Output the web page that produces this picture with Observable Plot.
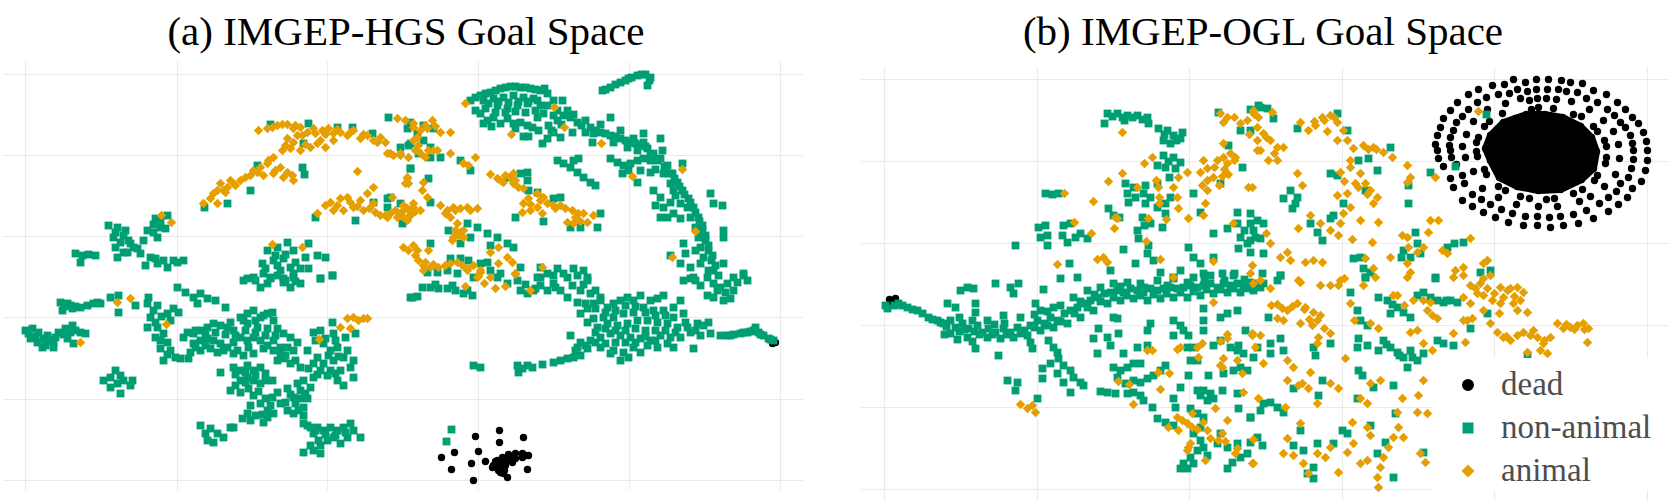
<!DOCTYPE html>
<html><head><meta charset="utf-8">
<script src="https://cdn.jsdelivr.net/npm/d3@7"></script>
<script src="https://cdn.jsdelivr.net/npm/@observablehq/plot@0.6"></script>
<style>
html,body{margin:0;padding:0;background:#fff}
body{width:1669px;height:501px;overflow:hidden;position:relative;font-family:"Liberation Serif","Times New Roman",serif}
.title{position:absolute;top:11px;width:600px;text-align:center;font-size:41px;line-height:41px;color:#000;white-space:nowrap}
.panel{position:absolute;top:0}
</style></head><body>
<script>
const categories = ["dead", "non-animal", "animal"];
const colors = ["#000000", "#009E73", "#E69F00"];
const symbols = ["circle", "square", "diamond2"];
const titles = ["(a) IMGEP-HGS Goal Space", "(b) IMGEP-OGL Goal Space"];
const hgsGridX = [0, 15.2, 30.2, 45.3, 60.4, 75.5];
const hgsGridY = [0, 8.1, 16.3, 24.4, 32.5, 40.6];
const oglGridX = [0, 15.3, 30.5, 45.8, 61.0, 76.3];
const oglGridY = [0, 8.2, 16.4, 24.6, 32.8, 41.0];

// (a) IMGEP-HGS — flat x,y lists
const hgsDead = [45.0,4.4, 47.4,5.0, 49.8,4.3, 47.4,3.8, 42.9,2.8, 45.3,2.9, 41.6,2.3, 44.6,1.7, 46.0,1.9, 42.6,1.1, 44.8,0.0, 50.2,1.1,
46.8,1.5, 47.2,2.0, 47.7,2.3, 48.3,2.6, 49.0,2.7, 49.7,2.7, 50.3,2.5, 47.3,1.0, 47.8,0.7, 48.2,0.3, 47.2,1.3, 47.7,1.7, 48.3,2.0, 49.0,2.2, 49.7,2.3, 47.8,1.2, 47.5,0.8, 46.7,1.3, 48.7,1.8, 47.0,1.9, 48.0,1.5, 48.6,2.4, 50.0,2.5, 47.9,1.0,
75.0,13.8, 74.7,13.7];
const hgsNonAnimal = [24.5,35.6, 28.3,35.7, 31.2,35.3, 32.7,35.3, 34.7,34.7, 27.8,33.7, 27.9,30.6, 27.7,31.3, 22.5,29.0, 20.2,27.7, 17.9,27.3, 36.3,36.3, 23.2,31.5,
29.0,26.3, 33.0,26.0, 34.8,27.8, 36.2,28.2, 37.5,27.7, 37.7,25.7, 36.5,28.3,
38.5,35.8, 38.3,33.5, 39.3,32.7, 38.5,31.2, 39.2,34.7,
8.3,25.5, 9.2,25.3, 10.0,25.0, 8.8,24.3, 9.5,23.8, 10.3,24.0, 10.8,23.3, 9.0,23.3, 10.2,22.8, 11.5,22.7, 12.2,25.0, 11.8,24.0, 13.0,26.2, 13.5,25.3, 14.2,26.5, 14.0,25.2, 13.2,24.3, 12.5,22.3, 13.2,21.7, 13.8,22.0, 14.2,21.3, 12.0,21.5, 15.2,21.8, 15.8,22.0, 5.0,22.7, 5.7,22.5, 6.3,22.6, 7.0,22.5, 5.5,21.8, 9.2,22.3,
9.0,24.8, 9.8,24.5, 10.5,23.7, 11.2,23.2, 12.8,25.6, 13.5,26.0, 12.8,24.8, 13.0,22.2, 14.8,22.0, 9.8,22.8,
24.2,23.0, 25.2,23.3, 26.2,23.8, 26.8,23.0, 28.3,23.7, 29.2,22.5, 30.0,22.3, 24.8,22.0, 25.8,22.2, 26.5,21.3, 25.5,21.0, 27.5,21.2, 23.7,21.7, 24.5,20.3, 25.8,20.2, 26.8,20.3, 28.3,21.2, 30.7,20.5, 29.5,20.2, 22.2,20.2,
21.8,20.0, 22.8,20.3, 23.8,20.7, 24.2,19.7, 25.2,20.5, 25.8,19.8, 26.8,20.7, 27.5,19.7, 26.5,19.3, 23.5,19.3, 29.5,20.2, 30.7,20.5,
23.0,20.0, 24.5,20.2, 26.0,20.0, 27.0,19.9, 25.0,22.5, 26.0,22.6, 27.0,21.8, 28.0,22.3, 25.2,21.5, 24.0,21.2,
3.5,17.8, 4.2,17.7, 3.7,17.0, 4.7,17.2, 5.5,17.3, 6.2,17.5, 7.2,17.8, 7.5,17.7, 8.5,18.3, 9.3,18.5, 9.3,16.8, 11.0,17.5, 3.9,17.4, 4.5,17.5, 5.0,17.4, 6.8,17.7,
0.0,15.0, 0.7,15.2, 1.3,14.8, 0.5,14.2, 1.2,13.8, 2.0,13.5, 2.2,14.5, 2.8,13.8, 3.3,14.8, 4.0,15.2, 4.7,15.5, 4.2,14.2, 4.8,13.7, 5.5,14.8, 6.0,14.7, 1.7,13.3, 2.8,13.3,
0.3,14.7, 1.0,14.4, 1.8,14.2, 2.5,14.0, 3.0,14.3, 3.8,14.6, 4.5,14.8, 5.0,15.0,
12.3,18.3, 12.2,17.7, 13.2,17.5, 12.5,16.3, 12.2,15.3, 13.2,15.3, 13.0,14.3, 13.8,14.7, 14.2,13.8, 14.5,13.0, 13.8,12.0, 15.0,12.3, 15.5,12.2, 14.2,16.7, 14.8,17.2, 15.3,16.8, 14.5,16.0, 13.5,13.2,
12.8,17.0, 13.6,16.4, 13.0,15.8, 13.5,14.0, 14.2,12.6,
15.2,19.3, 16.0,18.8, 16.8,18.3, 17.5,18.7, 18.2,18.2, 19.0,18.0, 17.2,17.7, 20.0,17.3,
16.2,14.8, 15.8,14.3, 16.8,14.7, 17.5,15.0, 18.2,15.3, 18.8,15.7, 19.5,15.5, 20.2,15.3, 20.8,15.0, 21.5,16.3, 22.2,16.7, 22.8,17.0, 23.5,16.3, 24.2,16.7, 24.7,16.8, 24.8,16.0, 22.2,15.7, 23.2,15.3, 24.2,15.2, 25.2,15.2, 25.8,14.7, 26.5,14.3, 27.2,13.8, 26.8,13.0, 28.2,13.0,
16.8,13.7, 17.5,14.0, 18.2,14.2, 18.8,14.0, 19.5,13.7, 17.5,13.0, 16.5,12.8, 18.5,13.2, 19.2,12.8, 20.2,13.3, 20.8,13.8, 21.5,14.3, 22.2,14.0, 22.8,14.3, 23.5,14.0, 23.8,13.2, 20.8,12.7, 21.8,12.5, 22.8,12.7, 16.3,12.2, 24.8,14.0, 24.8,13.0, 25.5,13.3, 26.2,13.3,
17.0,15.0, 18.0,14.7, 19.0,14.8, 20.0,14.6, 21.0,14.5, 22.0,15.0, 23.0,14.8, 24.0,14.5, 25.0,14.5, 17.0,13.3, 18.0,13.5, 19.8,13.0, 21.2,13.0, 22.3,13.3, 24.2,13.5, 23.0,16.0, 23.8,16.5, 21.8,16.0, 20.5,15.8,
28.8,14.8, 29.5,15.0, 30.7,15.8, 30.8,14.7, 32.0,14.3, 29.8,13.7, 30.5,13.0, 31.2,13.3, 32.2,13.0, 32.8,12.0, 32.5,11.3, 32.8,10.3, 31.8,12.3, 30.8,12.0, 29.8,11.7, 28.8,11.7, 29.5,11.0, 30.5,11.0, 31.5,11.0, 31.2,10.0, 31.8,9.5, 28.8,10.3, 27.8,10.0, 27.2,9.7, 28.5,9.3, 27.5,9.0, 26.5,11.7, 25.8,12.2, 25.2,12.0, 27.5,11.3, 33.0,14.7,
29.0,14.0, 30.0,14.2, 31.0,14.0, 29.2,12.3, 30.3,12.5, 31.3,12.4, 29.2,10.6, 30.2,10.5, 31.0,10.7, 28.3,11.2, 25.5,12.7, 26.0,12.5, 27.0,12.0,
20.8,11.3, 21.5,11.0, 22.2,11.5, 22.8,11.0, 23.5,11.3, 24.0,10.7, 21.5,10.0, 22.2,10.3, 22.8,10.0, 23.5,9.7, 20.5,9.0, 21.5,8.8, 22.3,9.2, 22.8,8.5, 23.5,7.7, 24.2,7.0, 24.8,6.7, 24.2,6.3, 23.8,5.8, 25.5,7.7, 25.2,8.8, 26.2,9.2, 26.8,8.3, 27.5,8.2, 28.2,8.2, 27.8,7.3, 26.2,7.0, 26.8,6.7, 27.8,6.5, 24.7,10.0, 24.7,8.3, 19.5,10.8, 22.2,6.7, 21.7,6.2, 22.5,6.0,
21.0,10.6, 22.0,10.8, 23.0,10.5, 24.0,10.0, 21.0,9.5, 22.0,9.8, 23.3,8.9, 24.0,8.2, 26.5,8.6, 27.0,7.7, 27.3,7.0, 26.0,7.8, 28.0,8.7, 23.7,6.6, 24.5,7.5, 22.5,7.5, 23.0,6.5,
7.8,10.0, 8.5,10.3, 9.0,11.0, 9.5,10.5, 8.5,9.3, 9.2,9.7, 9.8,10.0, 10.7,10.0, 10.5,9.5, 9.5,8.7,
17.5,5.5, 18.0,4.7, 18.5,5.2, 19.2,4.7, 18.8,3.8, 18.2,4.0, 19.8,4.3, 20.5,5.3, 20.8,5.3,
27.8,5.7, 28.5,5.3, 29.2,5.3, 28.8,4.7, 29.8,5.0, 30.5,5.3, 31.2,5.0, 31.8,5.3, 32.5,5.7, 32.8,5.0, 33.5,4.3, 30.8,4.3, 30.2,4.0, 29.5,3.5, 28.8,3.0, 27.8,2.8, 29.5,2.7, 31.5,3.7, 32.2,4.3,
28.2,5.5, 29.0,5.0, 30.0,4.6, 31.0,4.5, 32.0,4.8, 29.3,4.0, 28.5,3.5,
38.5,18.3, 39.2,18.4,
44.5,38.0, 45.5,38.5, 46.5,38.8, 47.5,39.2, 48.5,39.4, 49.5,39.3, 50.5,39.2, 51.5,39.0, 52.2,38.7, 45.8,38.0, 46.8,38.2, 47.8,38.3, 48.8,38.5, 49.8,38.3, 50.8,38.2, 47.2,37.5, 48.2,37.2, 49.2,37.5, 50.2,37.7, 51.2,38.0, 51.9,39.2, 52.8,38.0, 53.7,38.0, 52.2,37.5, 53.2,37.0, 54.2,37.0, 54.5,36.3, 55.2,35.8, 56.0,36.0, 53.2,36.0, 52.3,35.5, 52.8,34.8, 52.2,34.2, 51.7,33.7, 53.5,34.3, 54.7,34.8, 45.5,36.7, 46.2,36.0, 46.8,36.3, 47.5,35.7, 48.2,36.2, 48.8,35.7, 49.5,35.8, 50.2,35.5, 50.7,35.3, 49.8,34.4, 50.3,34.4, 45.8,35.7, 51.8,36.7, 51.2,36.3,
45.0,38.3, 46.0,38.7, 47.0,39.0, 48.0,39.3, 49.0,39.4, 50.0,39.3, 51.0,39.1, 46.3,37.7, 47.3,37.9, 48.3,37.8, 49.3,37.9, 50.3,37.9, 51.5,37.5, 46.0,37.2, 47.0,36.8, 48.0,36.8, 49.0,36.9, 50.0,36.8, 51.0,37.0, 52.8,36.5, 53.8,36.5, 54.8,36.6, 55.6,35.5, 53.6,35.6, 52.6,35.0, 45.0,37.0, 46.6,35.4, 49.0,35.2, 51.3,35.0,
56.5,35.3, 57.5,34.8, 58.5,34.5, 59.5,34.2, 60.5,33.8, 61.5,33.5, 62.2,33.2, 62.8,32.7, 63.5,32.2, 64.2,31.5, 64.7,30.7, 65.2,29.8, 65.7,29.0, 66.3,28.2, 66.8,27.3, 67.3,26.3, 67.7,25.5, 68.0,24.5, 68.3,23.5, 68.7,22.5, 69.0,21.5, 69.3,20.5, 56.8,34.7, 58.8,33.8, 60.2,33.3, 61.2,33.0, 62.5,32.0, 63.8,30.7, 64.5,29.7, 64.8,29.0, 66.2,27.3, 66.5,26.3, 67.0,25.3, 67.3,24.3, 67.5,23.3, 67.8,22.3, 68.3,21.0, 60.8,34.2, 61.8,33.8, 63.7,33.0, 63.5,34.2, 61.8,34.7, 58.5,36.3,
57.0,35.0, 58.0,34.7, 59.0,34.4, 60.0,34.0, 61.0,33.7, 62.0,33.4, 62.5,32.5, 63.2,32.0, 63.9,31.4, 64.4,30.7, 64.9,30.2, 65.4,29.4, 65.9,28.6, 66.5,27.8, 67.0,26.8, 67.4,25.9, 67.7,25.0, 68.0,24.0, 68.3,23.0, 68.6,22.0, 68.8,21.0, 57.5,35.6, 59.5,35.0, 56.0,34.8, 63.0,31.1, 65.0,28.5,
57.7,39.0, 58.5,39.3, 59.5,39.8, 60.3,40.2, 61.2,40.5, 62.0,40.6, 62.5,40.3, 62.2,39.5, 60.0,40.0, 58.0,39.1, 59.0,39.6, 60.6,40.3, 61.6,40.6, 62.4,40.0,
56.7,33.8, 58.5,32.2, 59.2,31.8, 59.8,31.5, 60.5,31.7, 61.2,32.0, 61.8,32.2, 59.7,30.7, 60.3,31.0, 61.5,31.0, 61.2,29.8, 62.5,30.8, 65.7,31.7,
53.2,32.0, 53.8,31.7, 54.5,31.3, 54.8,32.0, 55.3,32.2, 55.2,30.8, 55.8,30.3, 56.5,29.8, 57.0,29.5,
62.8,29.0, 63.5,28.3, 63.0,27.5, 63.8,27.3, 64.5,27.8, 64.8,26.7, 65.5,26.2, 63.5,26.3, 64.2,26.3, 65.5,27.7, 68.5,28.7, 68.8,27.7, 69.7,27.5, 69.8,25.0, 69.8,24.3,
64.5,22.5, 65.8,23.7, 66.0,22.7, 65.5,21.7, 66.5,21.3, 67.0,23.0, 67.5,21.7, 69.8,21.7, 70.8,20.3, 71.8,20.7, 72.2,20.0, 66.8,20.3,
48.2,30.3, 49.5,30.7, 50.2,30.8, 50.2,30.0, 50.3,29.0, 51.2,28.8,
49.0,26.3, 51.8,25.9, 53.5,28.3, 54.5,25.3, 55.5,25.3, 57.2,25.3, 57.5,26.7, 52.8,28.2,
38.2,35.2, 39.8,35.5, 40.8,35.2, 38.5,33.7, 39.8,34.0, 40.5,33.3, 41.5,32.3, 40.5,32.3, 43.5,32.0, 44.5,31.0, 38.5,31.2, 37.5,33.3,
40.3,30.2, 40.5,27.8, 36.2,27.3, 44.2,25.7, 45.2,25.3, 46.2,24.7, 47.2,24.3, 48.2,23.7, 48.8,23.3, 46.5,23.5, 42.3,25.0, 44.5,24.3, 40.5,23.7, 43.5,23.7,
42.5,22.2, 43.5,22.2, 44.3,22.0, 46.2,21.8, 46.5,21.0, 47.5,20.7, 49.5,21.3, 42.2,21.0, 45.5,21.7,
51.5,21.3, 52.2,20.7, 53.2,21.2, 53.8,20.7, 54.8,21.2, 55.8,21.0, 56.2,20.3, 51.2,20.3,
39.7,19.3, 40.5,19.3, 41.3,19.2, 42.2,19.2, 43.0,19.0, 43.8,18.7, 44.7,18.5, 38.7,18.3, 40.2,20.8, 41.2,20.8, 43.2,20.7, 44.8,20.3, 47.2,20.3, 48.2,19.7, 49.2,20.0, 49.5,19.0, 50.2,18.7, 50.8,19.0, 51.5,19.5, 52.2,19.0, 52.8,19.7, 53.5,19.0, 54.2,18.3, 51.5,20.3, 52.8,20.5, 54.2,20.3, 55.2,20.5, 56.2,20.0, 55.5,19.0, 56.5,18.7, 57.5,18.3,
41.0,19.6, 42.7,19.5, 44.2,19.0, 50.0,19.6, 51.0,19.2, 53.0,19.3, 54.7,19.5, 55.8,19.6, 57.0,19.0,
55.2,17.8, 55.5,16.7, 56.2,17.2, 56.8,17.7, 57.5,18.0, 58.2,17.3, 58.8,17.7, 59.5,18.0, 60.2,18.3, 60.8,18.0, 61.5,18.5, 62.5,18.0, 63.2,18.2, 63.8,18.5, 64.8,17.3, 65.5,18.0, 65.8,16.7, 64.8,16.3, 63.8,17.0, 62.8,17.0, 61.8,17.3, 60.8,16.8, 59.8,16.7, 58.8,16.3, 57.8,16.3, 56.8,16.2, 56.2,15.8, 57.2,15.3, 58.2,15.7, 59.2,15.5, 60.2,15.7, 61.2,16.0, 62.2,16.0, 63.2,15.8, 64.2,15.7, 65.2,15.3, 66.2,15.3, 67.2,15.7, 67.8,15.5, 68.3,15.8, 68.5,14.7, 67.5,14.5, 66.5,14.8, 65.5,14.3, 64.5,14.3, 63.5,14.5, 62.5,14.0, 61.5,14.2, 60.5,14.3, 59.5,14.5, 58.5,14.7, 57.5,14.3, 56.5,14.0, 55.5,13.8, 54.5,14.5, 55.2,13.3, 56.2,13.2, 57.5,13.3, 58.8,13.0, 59.8,12.8, 60.8,13.3, 62.2,13.5, 63.2,13.3, 64.2,13.7, 59.5,12.0, 60.3,12.3, 66.8,13.2, 55.0,13.0, 64.8,13.3, 58.5,12.7,
56.0,17.7, 57.0,17.2, 58.0,16.8, 59.0,17.0, 60.0,17.5, 61.0,17.4, 62.0,16.8, 63.0,16.5, 64.0,16.5, 57.0,14.8, 58.0,15.2, 59.0,15.0, 60.0,15.0, 61.0,15.2, 62.0,15.0, 63.0,15.0, 64.0,15.0, 65.0,14.8, 66.0,15.8, 67.0,15.0, 56.0,13.5, 57.0,13.8, 58.0,13.7, 59.0,13.8, 60.0,13.8, 61.0,13.8, 62.0,14.4, 63.0,14.0, 61.5,12.8,
69.5,14.5, 70.2,14.5, 70.8,14.6, 71.5,14.7, 72.2,14.8, 72.8,15.0, 73.3,14.8, 73.8,14.5, 74.3,14.2, 74.8,14.0, 73.0,15.3, 70.5,14.5, 71.8,14.8, 73.5,14.6, 74.5,14.1, 72.5,14.9,
65.8,20.0, 66.5,20.2, 68.2,20.3, 68.8,19.7, 69.5,19.3, 70.2,19.7, 70.8,19.0, 70.5,18.2, 68.8,18.3, 68.2,18.5, 71.2,19.8, 71.8,20.5, 69.8,18.0, 67.0,20.0, 67.5,19.5, 69.2,19.0, 70.0,18.8,
44.8,11.5, 45.5,11.3, 49.2,11.5, 49.7,11.2, 50.2,11.5, 49.3,10.8, 50.7,11.3, 51.7,11.6, 52.8,11.8, 53.5,12.0, 54.2,12.2, 54.8,12.3, 55.5,12.5,
42.6,5.1, 42.1,3.9];
const hgsAnimal = [23.3,35.0, 24.2,35.2, 25.2,35.5, 26.2,35.6, 26.8,35.2, 27.5,35.3, 28.2,34.8, 29.0,34.7, 29.7,35.0, 30.3,35.2, 30.8,34.7, 31.5,34.8, 32.2,34.5, 32.8,35.0, 33.5,34.2, 34.2,34.5, 34.8,34.0, 35.5,34.3, 36.0,33.8,
24.7,35.3, 25.7,35.6, 27.0,35.5, 28.8,35.2, 30.0,34.6, 31.2,35.1, 32.5,34.8, 33.8,34.6, 27.2,34.5, 28.0,33.6, 29.5,34.0, 26.0,33.5, 24.3,32.0, 23.2,30.8, 21.0,29.5, 20.0,28.8, 22.0,30.3, 25.0,31.0, 26.2,30.8,
26.2,34.2, 26.8,33.8, 26.5,33.2, 27.5,33.0, 28.5,33.3, 29.2,33.7, 30.0,33.3, 30.8,34.0,
24.8,32.3, 24.2,31.7, 23.5,31.3, 22.8,31.0, 22.5,30.5, 23.8,30.5, 24.8,30.7, 25.5,31.3, 25.8,30.3, 26.7,30.5, 26.8,30.0, 21.5,30.0, 20.8,29.7, 20.2,29.3, 19.5,29.7, 19.2,29.0, 18.8,28.7, 18.5,28.2, 17.8,27.7, 19.2,27.7, 20.5,30.0, 19.8,29.0, 25.7,33.0, 27.7,34.5, 35.2,33.8,
29.2,26.7, 30.5,27.8, 30.8,27.0, 31.5,28.2, 32.2,28.3, 31.8,27.0, 32.8,27.3, 33.5,28.0, 33.8,27.0, 34.2,28.7, 34.8,29.3, 34.8,27.7, 35.5,26.5, 36.5,26.7, 37.2,26.3, 37.8,27.0, 38.8,27.3, 38.2,26.0, 33.2,30.9,
30.0,27.5, 31.2,27.5, 32.5,27.8, 33.2,27.4, 34.4,27.2, 35.0,26.8, 36.0,26.5, 37.5,26.7, 38.5,26.6,
37.2,36.2, 38.0,36.0, 38.8,35.3, 39.2,34.3, 36.5,32.7, 37.5,32.5, 38.3,32.3, 38.8,34.0, 38.2,30.3, 38.3,29.7,
13.6,26.5, 14.6,25.8, 24.7,23.6, 27.7,23.3,
9.2,17.8, 10.5,18.2, 5.5,13.8, 14.1,15.6,
32.2,16.2, 32.8,16.3, 33.3,16.0, 33.8,16.2, 34.2,16.2, 31.5,15.3, 32.5,15.2, 29.4,14.1,
44.0,37.7, 52.9,37.3, 53.9,35.3, 48.6,34.6, 57.6,33.7, 60.7,30.4, 65.7,31.1, 67.0,24.9, 64.7,22.3,
46.5,30.6, 47.2,30.2, 47.8,29.8, 48.5,30.3, 48.8,29.7, 49.3,29.3, 49.8,29.2, 48.8,30.7, 47.5,30.0, 48.0,30.5, 49.0,30.0,
49.8,27.7, 50.3,28.2, 51.2,28.7, 51.8,28.3, 52.2,27.7, 51.2,27.3, 50.5,27.0, 51.7,26.7, 52.8,27.5, 53.5,27.5, 54.7,27.0, 55.3,26.7, 54.2,25.8, 54.8,25.7, 55.8,26.7, 56.2,25.8, 56.8,26.5, 49.7,26.8,
50.5,27.6, 51.5,28.0, 53.0,27.2, 54.0,27.2, 55.0,26.3, 55.5,25.9,
38.8,35.7, 39.5,35.0, 40.7,36.0, 40.2,35.2, 41.5,34.8, 42.5,34.8, 39.0,33.0, 39.5,32.7, 40.0,32.3, 40.8,33.0, 41.2,33.0, 37.5,32.7, 36.8,32.5, 36.2,32.7, 42.5,32.7, 43.8,31.7, 45.0,32.3, 44.3,31.5,
40.0,35.5, 41.0,35.4, 39.3,33.5, 40.3,33.0,
38.2,30.2, 38.0,29.7, 39.8,29.8, 39.7,29.0, 40.2,28.3, 36.7,28.3, 37.8,27.5, 38.8,27.7, 37.5,26.7, 38.5,26.5, 39.5,27.0, 36.2,26.3, 41.5,27.5, 42.2,27.0, 42.8,27.3, 43.5,27.2, 44.2,27.3, 45.2,27.2, 42.5,26.3, 43.2,25.7, 43.8,25.0, 42.8,24.3, 43.5,24.8, 42.7,24.0, 43.8,24.3,
37.0,27.0, 38.2,27.2, 39.0,26.9, 37.8,26.3, 42.0,26.7, 43.0,27.0, 44.5,27.0, 43.0,25.0, 43.3,24.5,
37.8,23.3, 38.8,23.5, 39.2,23.0, 40.3,23.0, 39.3,22.0, 39.8,21.5, 40.5,21.3, 41.3,21.3, 42.5,21.7, 43.2,21.8, 44.2,21.2, 44.8,21.5, 45.5,21.0, 46.5,22.8, 47.3,23.3, 47.3,21.7, 48.2,22.3, 48.7,21.8, 49.0,20.7, 45.2,20.3, 51.7,21.3,
38.3,23.0, 39.0,22.5, 40.0,21.8, 40.8,21.6, 42.0,21.5, 43.7,21.5,
44.0,19.4, 45.3,20.4, 45.9,19.7, 46.5,20.3, 47.0,19.2, 48.0,19.4, 49.0,20.6, 50.5,19.0, 45.5,20.8, 39.8,21.0, 44.2,21.0];

// (b) IMGEP-OGL — flat x,y lists
const oglDead = [0.6,18.7, 0.9,18.9, 1.1,19.1, 0.5,19.0, 1.2,18.7,
62.9,41.0, 64.1,40.7, 65.2,41.0, 66.4,41.0, 67.7,40.9, 68.6,40.7, 69.8,40.6, 70.9,39.9, 72.2,39.5, 73.3,38.7, 74.1,38.0, 74.8,37.2, 75.4,36.6, 75.9,35.7, 76.2,34.8, 76.3,33.9, 76.3,32.9, 76.1,31.9, 75.7,30.8, 74.8,30.1, 74.3,29.2, 73.4,28.5, 72.4,27.8, 70.9,27.1, 69.4,26.6, 67.9,26.4, 66.6,26.2, 65.3,26.4, 63.9,26.4, 62.4,26.7, 61.1,27.2, 59.9,27.7, 58.8,28.3, 57.8,28.9, 56.9,30.2, 56.6,31.1, 55.9,32.3, 55.4,33.1, 55.3,33.9, 55.1,34.5, 55.3,35.4, 55.6,36.2, 55.9,37.1, 56.6,37.9, 57.3,38.7, 58.4,39.5, 59.4,40.0, 60.8,40.4, 62.0,40.5,
63.3,40.0, 64.3,39.8, 65.2,40.0, 66.3,40.0, 67.4,40.0, 68.2,39.8, 69.3,39.7, 70.2,39.1, 71.3,38.7, 72.3,38.0, 73.0,37.4, 73.6,36.7, 74.1,36.2, 74.6,35.4, 74.8,34.6, 74.9,33.9, 74.9,33.0, 74.7,32.1, 74.4,31.2, 73.6,30.6, 73.2,29.8, 72.4,29.2, 71.5,28.6, 70.2,27.9, 68.9,27.5, 67.6,27.3, 66.5,27.2, 65.3,27.3, 64.1,27.3, 62.8,27.6, 61.7,28.0, 60.6,28.5, 59.7,29.0, 58.8,29.5, 58.0,30.6, 57.8,31.4, 57.2,32.5, 56.7,33.2, 56.6,33.9, 56.5,34.4, 56.6,35.2, 56.9,35.9, 57.2,36.7, 57.8,37.3, 58.4,38.0, 59.3,38.7, 60.2,39.2, 61.4,39.5, 62.5,39.6,
63.6,39.1, 64.5,38.9, 65.3,39.1, 66.2,39.1, 67.2,39.0, 68.7,38.8, 70.5,38.0, 71.9,36.9, 72.9,35.8, 73.4,34.5, 73.5,33.1, 73.1,31.5, 72.0,30.3, 70.6,29.3, 69.5,28.8, 67.3,28.3, 65.4,28.3, 63.2,28.5, 61.4,29.2, 59.8,30.1, 58.9,31.8, 58.1,33.2, 57.8,34.3, 58.2,35.5, 58.9,36.8, 60.3,38.0, 62.1,38.6,
64.7,38.0, 65.4,38.2, 66.9,38.1, 68.9,37.5, 69.7,37.3, 70.9,36.3, 71.3,35.8, 72.0,34.9, 72.2,34.3, 72.2,33.2, 72.1,32.6, 71.3,31.4, 71.0,30.9, 69.8,30.0, 68.9,29.6, 67.0,29.1, 66.2,29.0, 64.5,29.1, 63.6,29.3, 62.1,29.9, 61.4,30.3, 60.2,31.5, 60.0,32.0, 59.3,33.3, 59.2,33.8, 59.2,34.7, 59.4,35.2, 60.0,36.3, 60.5,36.8, 61.8,37.6];
const oglDeadCore = [64.2,37.5, 66.0,37.5, 67.8,37.2, 69.6,36.3, 70.7,35.2, 71.2,33.8, 70.9,32.1, 69.7,31.0, 67.6,30.0, 65.4,29.9, 63.3,30.3, 61.5,31.2, 60.6,32.9, 60.1,34.1, 60.6,35.4, 61.9,36.7, 63.1,37.1];
const oglNonAnimal = [22.3,37.6, 23.3,37.6, 24.3,37.4, 25.3,37.4, 26.3,37.2, 26.4,36.6, 24.0,36.9, 22.0,36.6, 22.8,37.3, 23.8,37.2, 24.8,37.2, 25.8,37.0,
27.4,36.1, 28.3,35.9, 28.9,35.4, 29.8,35.7, 27.9,34.9, 28.6,34.6, 29.6,35.1, 28.0,35.5, 29.2,34.9,
27.9,33.4, 28.9,33.2, 29.6,32.7, 27.3,32.4, 28.1,32.2, 29.1,32.1, 28.5,31.2, 28.4,32.8,
34.4,34.4, 35.8,32.2, 33.6,30.6, 33.4,37.7, 36.6,38.0, 35.6,35.9, 37.4,38.4,
24.1,30.6, 24.9,30.2, 24.3,29.6, 25.1,29.2, 25.9,29.6, 26.6,29.2, 26.1,28.6, 24.4,28.7, 27.3,28.2, 28.1,28.6, 28.6,29.2, 27.3,30.6, 26.1,30.4, 28.1,27.6, 31.6,27.7, 30.9,29.6,
16.1,29.6, 16.8,29.5, 17.4,29.6, 22.4,28.1, 22.9,27.4, 23.5,27.2,
25.8,27.2, 25.3,25.9, 26.0,26.4, 26.6,26.6, 25.4,25.1, 26.4,24.4, 27.8,26.2,
15.4,26.2, 16.1,26.4, 15.6,25.2, 16.3,25.4, 16.3,24.4,
17.9,26.4, 18.6,26.6, 17.8,25.4, 18.3,24.7, 19.6,25.6, 20.3,25.1, 19.1,25.2, 13.1,24.4,
32.9,25.6, 34.3,26.1, 35.3,26.6, 36.0,25.9, 36.6,26.6, 35.6,25.2, 36.3,24.6, 37.1,25.2, 35.4,24.1, 36.6,23.7, 35.3,27.7,
18.5,22.6, 22.6,21.9, 23.9,24.0, 25.1,22.6, 26.3,23.6, 26.9,22.9, 27.6,21.7, 30.4,24.2, 30.9,23.2, 31.6,22.6, 31.9,21.6, 29.6,21.9, 32.9,23.2, 33.8,21.6, 35.0,21.6, 28.9,21.2,
0.1,18.4, 0.3,18.1, 1.4,18.6, 2.3,18.2, 3.3,17.9, 4.4,17.2, 5.3,16.9, 5.9,16.6, 6.6,16.9, 7.1,16.2, 7.8,16.6, 8.4,16.1, 9.3,16.4, 9.8,15.7, 10.4,16.1, 11.1,15.7, 11.9,16.1, 12.6,15.7, 13.3,16.2, 14.0,15.9, 14.6,16.4, 15.3,16.9, 16.0,16.6, 16.6,17.2, 17.3,16.9, 18.0,17.6, 18.6,17.9, 19.3,18.2, 20.0,18.6, 20.6,18.9, 21.3,19.2, 22.0,19.6, 22.6,19.7, 23.3,19.9, 23.9,19.7, 24.6,20.1, 25.3,19.9, 25.9,19.7, 26.6,20.1, 27.3,19.9, 27.9,20.1, 28.6,20.2, 29.3,20.1, 29.9,20.2, 30.6,20.4, 31.3,20.2, 31.9,20.4, 32.6,20.6, 33.3,20.2, 33.9,20.6, 34.6,20.4, 35.3,20.6, 35.9,20.4, 36.6,20.7, 37.3,20.6,
6.6,15.6, 8.3,15.2, 10.3,15.2, 11.6,15.1, 12.9,15.2, 14.3,15.4, 15.6,15.9, 16.9,16.2, 18.3,16.6, 19.6,17.2, 20.9,17.9, 22.3,18.6, 23.6,18.9, 24.9,19.1, 26.3,18.9, 27.6,19.1, 28.9,19.2, 30.3,19.2, 31.6,19.4, 32.9,19.6, 34.3,19.7, 35.6,19.7, 36.9,19.9, 15.6,17.9, 16.9,18.2, 18.9,19.2, 20.3,19.9, 21.6,20.2, 22.9,20.6, 24.3,20.7, 25.6,20.6, 27.3,20.9, 28.9,21.1, 30.9,21.2, 32.6,21.4, 34.9,21.4,
1.0,18.4, 1.8,18.4, 2.8,18.0, 3.8,17.6, 4.8,17.0, 5.6,16.7, 6.2,16.3, 7.5,15.8, 8.0,16.0, 9.0,15.8, 9.5,15.5, 10.8,15.5, 12.2,15.5, 13.6,15.6, 15.0,16.2, 16.3,16.4, 17.6,16.8, 19.0,17.6, 20.3,18.2, 21.6,18.8, 22.9,19.2, 24.2,19.4, 25.6,19.4, 26.9,19.5, 28.2,19.6, 29.6,19.7, 30.9,19.8, 32.2,20.0, 33.6,20.0, 34.9,20.1, 36.2,20.1, 37.6,20.2, 15.0,17.5, 16.3,17.8, 17.6,18.4, 19.6,18.8, 21.0,19.5, 23.6,20.3, 26.0,20.2, 28.3,20.4, 30.3,20.7, 32.0,20.9, 34.0,20.9, 36.0,21.0, 12.0,16.6, 11.0,16.5, 8.8,16.9, 7.5,17.2, 6.0,15.5, 7.3,15.0, 8.8,14.8,
7.6,19.9, 8.3,20.2, 8.9,20.1, 11.1,20.6, 12.6,20.2, 12.9,19.6, 13.4,20.6, 15.9,20.0, 15.1,18.6, 17.6,21.1, 19.3,21.2, 6.3,18.6, 7.1,18.2, 9.1,18.6, 9.1,17.7, 11.9,17.4, 13.6,17.2, 10.3,16.9, 9.1,14.1, 11.4,13.4, 14.8,14.1, 14.6,14.7,
16.4,14.9, 16.9,14.2, 17.3,13.7, 15.8,12.1, 16.6,12.6, 17.4,13.1, 17.9,12.4, 18.6,11.9, 18.9,11.2, 19.6,10.7, 19.9,10.4, 17.3,11.6, 17.9,10.7, 18.6,9.7, 15.8,11.1, 12.3,10.9, 13.3,10.7, 13.1,9.9, 15.3,9.1,
21.4,16.1, 22.3,15.2, 22.6,14.4, 21.3,13.6, 23.3,17.1, 23.4,15.6, 22.9,17.2, 20.9,15.1,
22.9,12.2, 23.6,11.9, 24.3,12.2, 23.3,11.2, 24.1,10.6, 24.9,10.9, 25.6,10.7, 26.3,11.1, 26.9,11.4, 27.6,11.9, 28.1,12.4, 24.3,9.6, 24.9,9.7, 25.6,9.4, 25.9,8.9, 26.8,8.2, 24.9,12.6, 25.6,12.6, 25.3,14.2, 26.3,14.4, 23.9,13.6, 22.3,9.7, 21.6,9.8, 23.1,9.6, 26.6,16.6, 26.3,15.9, 28.9,16.9, 29.6,16.4, 28.9,15.4, 29.9,15.9, 30.4,15.4, 30.3,14.2, 30.6,12.9, 30.4,11.4, 29.6,10.2, 29.1,8.2, 28.9,9.1,
31.3,9.9, 31.9,9.9, 32.6,9.6, 31.6,9.4, 32.9,9.1, 32.3,8.9, 33.8,9.9, 30.9,14.2, 31.3,12.9, 32.4,11.4, 31.9,15.9, 33.6,14.9,
27.3,7.1, 28.1,6.7, 28.9,6.4, 30.6,8.1, 31.3,7.6, 31.9,7.2, 31.6,6.2, 30.9,5.6, 31.6,4.9, 31.3,3.9, 30.6,3.2, 29.9,2.6, 30.3,2.1, 29.6,2.1, 30.9,2.6, 32.3,3.4, 31.9,4.2,
33.6,5.6, 33.3,4.6, 34.3,4.2, 35.3,4.6, 35.6,3.2, 34.8,2.7, 34.3,2.1, 36.3,3.6, 36.6,4.7, 37.3,5.2, 35.4,8.1, 36.6,7.2, 35.3,9.6,
32.9,14.4, 34.6,14.2, 35.4,14.4, 35.9,13.6, 34.9,11.9, 35.6,12.2, 33.9,11.6, 36.3,11.9, 35.3,13.9, 36.9,13.2,
35.3,17.9, 34.3,17.6, 31.9,18.1, 31.9,16.9, 33.6,17.2, 36.1,15.9,
37.8,21.6, 39.6,21.4, 46.6,19.7, 48.1,21.2, 49.4,19.2, 50.3,18.9, 51.3,18.2, 51.9,17.7, 52.6,17.2, 50.6,17.6, 53.3,19.4, 53.9,19.7, 55.3,18.9, 55.9,18.7, 56.6,18.9, 57.3,18.7, 55.1,21.2, 59.6,21.7, 60.3,17.6, 58.6,16.1, 47.3,17.9, 47.6,16.9, 48.3,16.4, 47.4,15.1, 48.3,14.4, 47.3,14.2, 49.9,14.9, 50.6,14.2, 51.3,13.7, 51.9,13.2, 52.6,13.9, 52.3,12.2, 53.3,12.9, 53.9,13.6, 55.3,14.9, 55.9,14.6, 56.9,14.4, 49.4,13.9, 39.9,13.9, 38.6,14.6, 39.6,15.1, 38.4,17.2, 37.9,20.6, 42.9,14.2, 44.6,14.6, 64.3,13.4,
54.6,19.2, 56.2,18.9, 50.8,18.5, 51.5,13.4, 52.8,13.2, 50.2,14.5,
37.3,14.2, 38.6,13.6, 43.1,13.4, 43.8,10.9, 43.4,9.4, 40.9,10.1, 37.9,8.6, 38.6,8.7, 39.3,8.2, 39.9,7.7, 37.6,7.9, 47.4,11.9, 47.8,11.4, 48.9,10.2, 47.3,9.1, 50.9,10.4, 51.1,7.6, 48.6,6.4, 45.8,5.9, 46.3,5.6, 41.6,5.9, 40.9,4.4, 41.9,3.9, 43.3,4.6, 44.9,4.6, 37.8,4.4, 42.3,1.6, 42.9,1.1, 42.9,2.2, 49.3,3.6, 50.1,4.7, 50.9,1.2, 53.9,3.7, 36.6,7.2,
37.6,38.2, 38.3,38.1, 38.9,37.1, 36.6,35.9, 41.3,36.1, 45.3,37.6, 46.3,35.9, 47.4,32.9, 48.4,33.1, 50.6,34.2, 49.3,31.9, 44.6,31.6, 45.3,31.4, 48.1,29.9, 52.4,30.4, 52.4,28.6, 54.6,31.7, 40.6,29.9, 39.9,29.1, 41.3,29.2, 40.8,28.1, 41.1,28.6, 36.6,27.6, 37.3,26.9, 36.9,25.9, 37.9,26.6, 37.6,25.1, 36.6,24.9, 37.9,23.6, 39.6,21.4, 42.6,26.6, 43.3,25.7, 43.8,24.9, 44.6,27.1, 44.9,27.4, 45.9,28.6, 46.9,23.1, 47.6,23.2, 47.9,22.1, 48.6,21.7, 48.1,21.2, 51.9,23.9, 53.1,25.7, 53.3,24.6, 53.6,23.6, 52.6,23.2, 56.3,24.2, 57.0,24.6, 57.9,24.7, 60.6,21.9, 55.1,21.1, 51.7,23.2, 39.3,20.9, 60.2,37.5, 57.1,32.3];
const oglAnimal = [23.8,35.7, 26.8,33.2, 26.0,32.6, 30.3,31.7, 29.4,31.2,
31.9,32.9, 32.3,32.1, 31.6,31.7, 33.3,32.9, 33.9,33.2, 34.6,33.6, 35.1,33.2, 34.3,32.6, 32.9,31.2, 33.8,31.3, 34.4,31.5, 31.8,30.4, 32.3,30.9, 33.5,30.4, 33.9,34.6,
35.0,32.9, 33.0,32.2, 34.0,32.0,
33.6,37.6, 34.3,37.2, 33.9,36.7, 35.6,36.6, 36.3,36.9, 36.9,37.7, 37.4,37.2, 36.5,35.5, 37.3,34.9, 37.3,33.9, 37.0,37.5, 35.0,37.2,
25.3,30.2, 27.4,30.2, 27.5,29.2, 27.5,28.6, 29.3,29.2, 29.4,28.1, 28.9,30.2, 30.4,27.1, 31.9,27.4, 32.1,28.6, 32.3,29.9, 36.4,30.2, 27.2,30.9,
18.0,29.6, 20.9,28.8, 22.4,30.8, 23.8,31.6, 23.1,27.2, 23.3,27.1, 23.0,26.1, 26.2,24.8, 26.4,27.1, 28.2,27.0, 19.0,26.7, 20.7,25.6, 34.9,26.6,
17.3,22.5, 21.3,23.0, 21.9,23.2, 22.3,22.7, 27.6,23.0, 32.9,22.8, 36.6,21.6,
13.6,8.5, 14.3,8.1, 14.8,8.4, 15.1,7.7,
26.3,13.9, 26.8,13.9, 27.4,11.7, 23.4,10.8, 24.5,10.5, 24.9,8.5, 27.6,10.0, 28.5,11.6, 29.3,14.0, 29.6,14.2,
29.3,7.2, 29.8,6.9, 30.3,6.6, 30.8,6.2, 31.3,6.0, 28.4,6.2, 29.4,5.9, 30.8,7.6, 31.9,6.7, 32.3,5.9, 30.6,4.6, 30.3,3.9, 30.4,4.2, 32.1,2.9, 32.6,5.1, 33.1,8.1, 34.3,6.9,
33.8,5.6, 33.4,4.9, 34.1,4.8, 35.3,4.1, 35.1,3.6, 36.9,5.0, 36.8,2.6, 35.9,9.7,
31.3,14.2, 31.8,14.6, 31.4,13.2, 33.6,14.8, 34.3,15.5, 33.9,13.1, 33.8,12.2, 35.3,12.9, 35.8,11.6, 36.8,15.4, 37.1,14.2, 34.3,15.1, 33.6,12.4,
32.9,18.7, 28.9,21.2, 36.9,20.6,
37.6,20.9, 38.6,20.1, 41.6,20.7, 43.6,20.4, 44.6,20.4, 45.4,20.4, 46.0,21.1, 47.9,20.4, 49.1,21.2, 52.3,21.2, 52.6,21.7, 51.3,19.4, 52.0,18.4, 52.9,18.9, 56.9,21.2, 57.9,21.4, 58.6,20.4, 59.6,20.6, 60.3,20.1, 59.9,19.4, 59.3,19.6, 57.9,19.2, 61.6,20.2, 62.3,19.9, 63.3,20.2, 63.9,19.7, 61.9,19.2, 61.6,18.6, 62.9,18.6, 63.6,18.9, 63.3,17.9, 64.3,17.7, 61.5,17.6, 59.9,17.9, 60.6,16.6, 57.9,16.9, 58.8,17.1, 54.3,17.9, 54.8,17.4, 55.3,17.1, 53.9,18.9, 54.6,18.7,
61.0,19.6, 62.6,20.1, 63.0,19.3, 60.8,18.9, 59.1,20.1, 42.0,18.0, 42.5,17.0, 40.8,18.3, 39.3,18.5,
38.7,18.4, 39.8,18.1, 40.3,17.9, 41.3,18.6, 42.1,18.2, 42.9,17.7, 43.6,17.4, 43.3,16.9, 39.3,17.1, 39.9,16.9, 41.6,16.6, 42.8,16.4, 44.0,16.1, 43.4,15.2, 43.3,14.6, 44.6,15.6, 46.6,18.6, 47.0,16.9, 48.6,16.6, 49.4,16.1, 50.9,19.4, 52.6,15.7, 53.3,15.9, 53.9,14.6, 54.8,13.9, 56.9,15.6, 58.1,14.7, 58.3,16.9, 61.3,15.7, 61.9,15.2, 62.6,14.9, 63.3,15.4, 63.9,15.7, 64.9,15.9, 65.3,15.2, 65.9,14.6, 66.6,15.2, 67.3,16.6, 67.9,16.1, 68.6,16.2, 69.3,16.4, 69.9,16.6, 70.4,16.1, 70.3,14.7, 64.3,13.7, 65.6,13.9, 66.3,13.6, 59.9,21.1, 58.6,18.6, 37.6,15.4, 36.8,15.6,
69.0,16.0, 68.2,16.5, 70.0,16.0, 66.0,14.9, 64.6,15.4, 62.2,15.3,
37.9,12.6, 40.3,12.9, 40.9,12.2, 42.6,11.7, 40.3,10.9, 41.4,10.4, 42.4,10.1, 44.6,10.6, 45.4,10.1, 43.3,8.6, 46.1,13.1, 48.6,10.6, 49.6,10.9, 47.6,9.1, 48.3,8.6, 51.8,9.1, 53.4,9.4, 53.9,10.9, 54.3,7.6, 53.3,7.7, 51.3,7.7, 51.4,6.2, 50.9,5.2, 50.4,4.2, 49.9,3.2, 49.6,2.2, 49.3,1.2, 49.4,0.2, 51.9,5.2, 48.3,6.2, 48.6,5.4, 47.6,2.6, 48.3,2.9, 46.9,4.6, 46.3,3.7, 46.8,6.7, 45.4,1.7, 39.9,3.6, 40.9,3.4, 41.9,2.6, 42.4,1.6, 41.6,6.6, 40.3,5.1, 43.3,3.6, 44.1,3.2, 44.6,4.2, 36.9,2.6, 53.6,3.6, 54.1,2.7, 37.4,9.1, 40.1,8.2, 41.8,10.6,
36.9,37.9, 37.3,36.2, 37.9,35.6, 38.6,34.9, 39.3,34.2, 37.6,33.9, 38.4,32.9, 39.3,32.9, 39.9,34.2, 38.8,37.7, 41.6,36.7, 42.4,35.9, 43.1,36.4, 43.8,37.2, 44.6,37.4, 45.3,36.7, 45.9,35.9, 45.3,34.9, 46.3,34.9, 46.9,34.1, 47.9,34.4, 48.9,34.2, 49.9,33.7, 50.8,33.2, 46.6,32.9, 52.3,32.4, 52.6,31.2, 52.3,30.7, 55.1,31.2, 41.3,31.6, 41.8,30.4, 45.6,31.7, 46.6,32.2, 47.6,31.6, 47.1,30.6, 48.1,30.6, 48.6,29.9, 49.3,29.2, 48.9,28.6, 46.3,29.6, 45.3,29.4, 46.6,28.2, 45.9,27.6, 47.6,26.9, 49.4,26.7, 45.6,26.6, 42.6,27.4, 41.4,26.1, 43.6,26.6, 44.6,25.9, 45.4,25.4, 46.8,25.0, 48.8,24.7, 51.8,25.4, 54.6,26.9, 55.4,26.9, 54.4,25.7, 53.9,24.2, 53.3,23.7, 52.4,24.2, 52.3,22.6, 55.8,23.9, 56.3,23.6, 58.6,25.1, 57.1,21.9, 57.9,22.2, 59.9,22.6, 60.3,22.9, 60.6,21.4, 39.6,23.2, 40.3,23.7, 40.6,22.9, 42.1,22.7, 42.9,22.9, 43.8,22.7, 50.6,23.2, 48.1,23.1, 48.9,22.1, 36.8,30.2, 38.2,25.6, 38.6,24.6, 36.8,22.4, 41.4,20.9, 45.6,20.9, 52.3,25.2, 59.4,37.8,
43.0,36.8, 44.0,36.9, 45.0,37.2, 44.3,35.8, 38.2,35.2, 39.0,33.6, 47.4,30.2, 48.3,29.5, 46.0,30.8, 49.2,34.0, 48.4,34.0];

const toPts = a => d3.range(0, a.length, 2).map(i => ({x: a[i], y: a[i + 1]}));
const gridStyle = {stroke: "#ebebeb", strokeOpacity: 1, strokeWidth: 1.1};
const sizes = [3.7, 4.4, 4.3];

function panel(o) {
  const marks = [
    Plot.gridX(o.gx, gridStyle),
    Plot.gridY(o.gy, gridStyle)
  ];
  if (o.core && Plot.hull) {
    marks.push(Plot.hull(toPts(o.core), {x: "x", y: "y", fill: colors[0], stroke: colors[0], strokeWidth: 7, strokeLinejoin: "round"}));
    marks.push(Plot.dot(toPts(o.core), {x: "x", y: "y", r: sizes[0], symbol: symbols[0], fill: colors[0]}));
  }
  o.series.forEach((s, i) => {
    marks.push(Plot.dot(toPts(s), {x: "x", y: "y", r: sizes[i], symbol: symbols[i], fill: colors[i]}));
  });
  const svg = Plot.plot({
    width: o.width, height: 501,
    marginLeft: o.m[0], marginRight: o.m[1], marginTop: o.m[2], marginBottom: o.m[3],
    x: {domain: o.xd, axis: null},
    y: {domain: o.yd, axis: null},
    style: {background: "transparent", overflow: "visible"},
    marks
  });
  const div = document.createElement("div");
  div.className = "panel";
  div.style.left = o.left + "px";
  div.appendChild(svg);
  document.body.appendChild(div);
}

panel({left: 0, width: 830, m: [3, 27, 62, 11], xd: [-2.2, 77.8], yd: [-1.0, 41.8],
  gx: hgsGridX, gy: hgsGridY, series: [hgsDead, hgsNonAnimal, hgsAnimal]});
panel({left: 840, width: 829, m: [21, 0, 67, 0], xd: [-2.3, 78.5], yd: [-1.2, 42.2],
  gx: oglGridX, gy: oglGridY, core: oglDeadCore, series: [oglDead, oglNonAnimal, oglAnimal]});

// titles
[[106, titles[0]], [963, titles[1]]].forEach(([l, t]) => {
  const d = document.createElement("div");
  d.className = "title";
  d.style.left = l + "px";
  d.textContent = t;
  document.body.appendChild(d);
});

// legend
const leg = d3.select("body").append("svg")
  .style("position", "absolute").style("left", "1432px").style("top", "358px").style("z-index", 5)
  .attr("width", 237).attr("height", 132);
leg.append("rect").attr("width", 237).attr("height", 132).attr("fill", "#fff");
const legTypes = [d3.symbolCircle, d3.symbolSquare, d3.symbolDiamond2];
const legSizes = [113, 121, 108];
categories.forEach((c, i) => {
  leg.append("path")
    .attr("transform", `translate(36,${27 + 43 * i})`)
    .attr("d", d3.symbol(legTypes[i], legSizes[i])())
    .attr("fill", colors[i]);
  leg.append("text")
    .attr("x", 69).attr("y", 37 + 43 * i)
    .attr("fill", "#4d4d4d")
    .style("font-family", '"Liberation Serif", serif')
    .style("font-size", "33px")
    .text(c);
});
</script>
</body></html>
